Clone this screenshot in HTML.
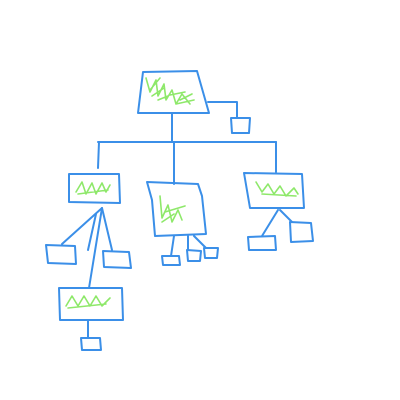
<!DOCTYPE html>
<html><head><meta charset="utf-8"><style>html,body{margin:0;padding:0;background:#fff;width:400px;height:400px;overflow:hidden}</style></head>
<body>
<svg width="400" height="400" viewBox="0 0 400 400" fill="none" stroke-linecap="round" stroke-linejoin="round">
<g stroke="#3b8fe8" stroke-width="2">
<path d="M208,102 L237,102 L237,118"/>
<path d="M172,113 L172,142"/>
<path d="M98,142 L276,142"/>
<path d="M99,142 L98,168"/>
<path d="M174,142 L174,184"/>
<path d="M276,142 L276,172"/>
<path d="M102,208 L62,244"/>
<path d="M102,208 L89,288"/>
<path d="M102,208 L112,250"/>
<path d="M96,214 L88,250"/>
<path d="M88,320 L88,338"/>
<path d="M174,236 L171,256"/>
<path d="M188,236 L188,250"/>
<path d="M194,236 L206,248"/>
<path d="M278,210 L262,236"/>
<path d="M280,210 L292,222"/>
</g>
<g stroke="#3b8fe8" stroke-width="2">
<path d="M143,72 L197,71 L209,113 L138,113 Z"/>
<path d="M231,118 L250,118 L249,133 L232,133 Z"/>
<path d="M69,174 L119,174 L120,203 L69,202 Z"/>
<path d="M147,182 L198,184 L202,196 L206,234 L155,236 L152,200 Z"/>
<path d="M244,173 L302,174 L304,208 L250,208 Z"/>
<path d="M46,245 L75,246 L76,264 L48,263 Z"/>
<path d="M103,251 L129,252 L131,268 L104,267 Z"/>
<path d="M59,288 L122,288 L123,320 L60,320 Z"/>
<path d="M81,338 L100,338 L101,350 L82,350 Z"/>
<path d="M162,256 L179,256 L180,265 L163,265 Z"/>
<path d="M187,250 L201,251 L200,261 L188,261 Z"/>
<path d="M204,248 L218,248 L217,258 L205,258 Z"/>
<path d="M248,237 L275,236 L276,250 L249,250 Z"/>
<path d="M290,222 L311,223 L313,241 L291,242 Z"/>
</g>
<g stroke="#8ee86a" stroke-width="1.6">
<path d="M146,78 L150,92 L156,80 L158,96 L164,84 L166,100 L172,90 L176,104 L182,94 L190,104 M150,90 L160,78 M152,96 L164,88 M170,95 L185,92 M176,104 L194,100 M180,100 L192,94 M158,100 L168,96"/>
<path d="M76,192 L82,182 L86,194 L92,183 L96,194 L102,183 L106,192 L110,185 M78,194 L108,190"/>
<path d="M160,196 L162,218 L168,205 L172,222 L178,210 L182,220 M165,212 L185,206 M162,222 L174,214"/>
<path d="M256,182 L262,192 L268,184 L274,194 L280,186 L286,196 L294,188 L298,194 M262,194 L296,196"/>
<path d="M66,306 L72,296 L78,306 L84,296 L90,306 L96,296 L102,306 L110,298 M68,308 L106,304"/>
</g>
</svg>
</body></html>
